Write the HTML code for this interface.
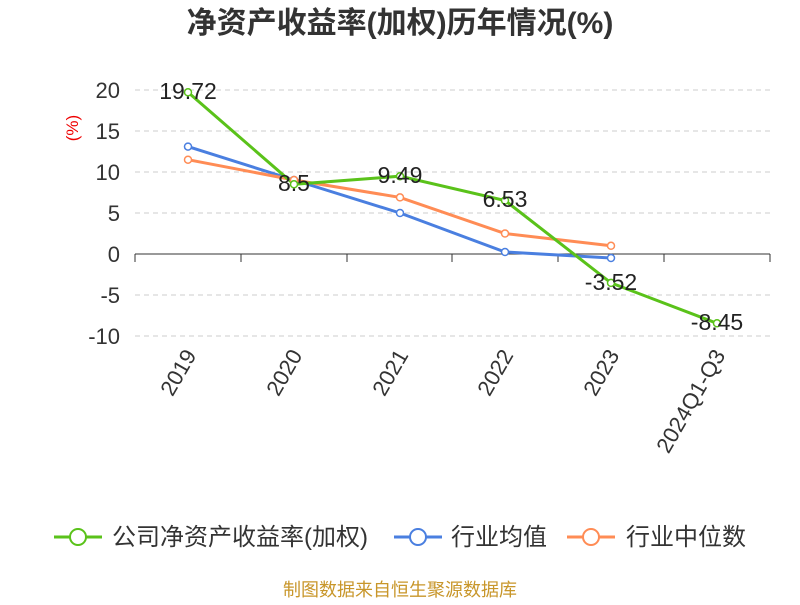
<!DOCTYPE html>
<html><head><meta charset="utf-8"><style>
body{margin:0;background:#fff;width:800px;height:600px;overflow:hidden}
svg text{font-family:"Liberation Sans","Noto Sans CJK SC",sans-serif}
</style></head><body>
<svg width="800" height="600" viewBox="0 0 800 600">
<text x="400" y="33" text-anchor="middle" font-size="30" font-weight="bold" fill="#333">净资产收益率(加权)历年情况(%)</text>
<text x="78" y="128" font-size="17" fill="#e00" transform="rotate(-90 78 128)" text-anchor="middle">(%)</text>
<g stroke="#ccc" stroke-dasharray="5,4" stroke-width="1">
<line x1="135" x2="770" y1="90" y2="90"/><line x1="135" x2="770" y1="131" y2="131"/>
<line x1="135" x2="770" y1="172" y2="172"/><line x1="135" x2="770" y1="213" y2="213"/>
<line x1="135" x2="770" y1="295" y2="295"/><line x1="135" x2="770" y1="336" y2="336"/>
</g>
<g stroke="#333" stroke-width="1">
<line x1="135" x2="770" y1="254" y2="254"/>
<line x1="135" x2="135" y1="254" y2="262"/><line x1="241" x2="241" y1="254" y2="262"/>
<line x1="347" x2="347" y1="254" y2="262"/><line x1="452" x2="452" y1="254" y2="262"/>
<line x1="558" x2="558" y1="254" y2="262"/><line x1="664" x2="664" y1="254" y2="262"/>
<line x1="770" x2="770" y1="254" y2="262"/>
</g>
<g font-size="22" fill="#333" text-anchor="end">
<text x="120" y="98">20</text><text x="120" y="139">15</text><text x="120" y="180">10</text>
<text x="120" y="221">5</text><text x="120" y="262">0</text><text x="120" y="303">-5</text><text x="120" y="344">-10</text>
</g>
<g font-size="22" fill="#333" text-anchor="end">
<text transform="translate(197,355) rotate(-60)">2019</text>
<text transform="translate(303,355) rotate(-60)">2020</text>
<text transform="translate(409,355) rotate(-60)">2021</text>
<text transform="translate(514,355) rotate(-60)">2022</text>
<text transform="translate(620,355) rotate(-60)">2023</text>
<text transform="translate(726,355) rotate(-60)">2024Q1-Q3</text>
</g>
<polyline fill="none" stroke="#4a7fe0" stroke-width="3" points="188,146.6 294,180 400,213 505,252 611,258"/>
<polyline fill="none" stroke="#ff8c55" stroke-width="3" points="188,159.7 294,180 400,197.4 505,233.5 611,245.8"/>
<polyline fill="none" stroke="#5ac21a" stroke-width="3" points="188,92.3 294,184.3 400,176.2 505,200.5 611,282.9 717,323.3"/>
<g fill="#fff" stroke-width="1.5">
<g stroke="#4a7fe0"><circle cx="188" cy="146.6" r="3.5"/><circle cx="294" cy="180" r="3.5"/><circle cx="400" cy="213" r="3.5"/><circle cx="505" cy="252" r="3.5"/><circle cx="611" cy="258" r="3.5"/></g>
<g stroke="#ff8c55"><circle cx="188" cy="159.7" r="3.5"/><circle cx="294" cy="180" r="3.5"/><circle cx="400" cy="197.4" r="3.5"/><circle cx="505" cy="233.5" r="3.5"/><circle cx="611" cy="245.8" r="3.5"/></g>
<g stroke="#5ac21a"><circle cx="188" cy="92.3" r="3.5"/><circle cx="294" cy="184.3" r="3.5"/><circle cx="400" cy="176.2" r="3.5"/><circle cx="505" cy="200.5" r="3.5"/><circle cx="611" cy="282.9" r="3.5"/><circle cx="717" cy="323.3" r="3.5"/></g>
</g>
<g font-size="23" fill="#222" text-anchor="middle">
<text x="188" y="99">19.72</text><text x="294" y="191">8.5</text><text x="400" y="183">9.49</text>
<text x="505" y="207">6.53</text><text x="611" y="290">-3.52</text><text x="717" y="330">-8.45</text>
</g>
<g font-size="24" fill="#333">
<line x1="54" x2="102" y1="537" y2="537" stroke="#5ac21a" stroke-width="3"/><circle cx="78" cy="537" r="8" fill="#fff" stroke="#5ac21a" stroke-width="2"/>
<text x="112" y="545">公司净资产收益率(加权)</text>
<line x1="394" x2="442" y1="537" y2="537" stroke="#4a7fe0" stroke-width="3"/><circle cx="418" cy="537" r="8" fill="#fff" stroke="#4a7fe0" stroke-width="2"/>
<text x="451" y="545">行业均值</text>
<line x1="567" x2="615" y1="537" y2="537" stroke="#ff8c55" stroke-width="3"/><circle cx="591" cy="537" r="8" fill="#fff" stroke="#ff8c55" stroke-width="2"/>
<text x="626" y="545">行业中位数</text>
</g>
<text x="400" y="596" text-anchor="middle" font-size="18" fill="#c8962a">制图数据来自恒生聚源数据库</text>
</svg>
</body></html>
